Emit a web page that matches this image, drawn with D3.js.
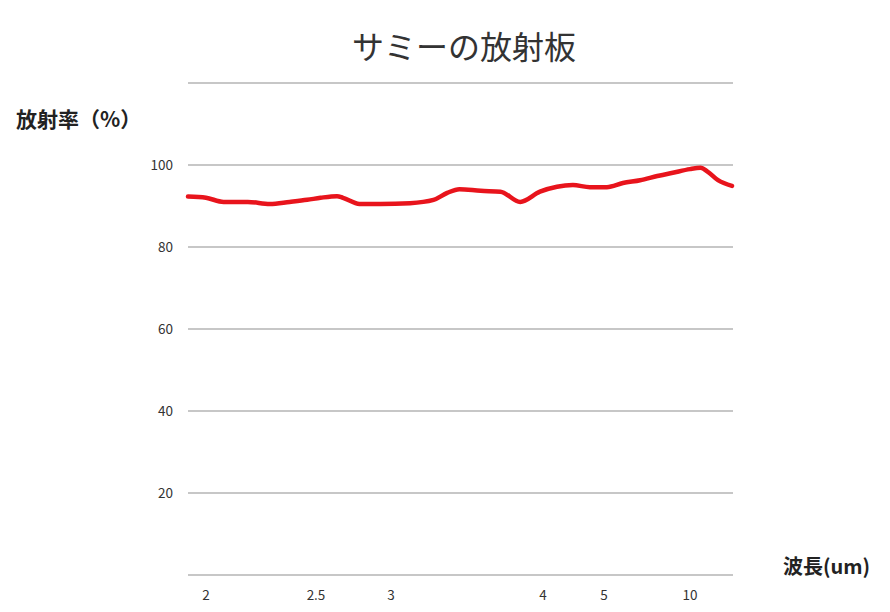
<!DOCTYPE html>
<html><head><meta charset="utf-8">
<script src="https://cdn.jsdelivr.net/npm/d3@7"></script>
<style>
body{margin:0;background:#fff;}
text{font-family:"Noto Sans CJK JP","Noto Sans",sans-serif;}
</style></head>
<body><svg id="c" width="890" height="612"></svg>
<script>
const title = "サミーの放射板";
const yLabel = "放射率（%）";
const xLabel = "波長(um)";
const xTicks = [2, 2.5, 3, 4, 5, 10];
const xTickLabels = ["2", "2.5", "3", "4", "5", "10"];
const yTicks = [20, 40, 60, 80, 100];
const yGrid = [0, 20, 40, 60, 80, 100, 120];
const wavelength = [1.92, 2.0, 2.08, 2.19, 2.29, 2.38, 2.46, 2.53, 2.64, 2.68, 2.79, 2.93, 3.125, 3.28, 3.37, 3.45, 3.59, 3.72, 3.85, 3.98, 4.23, 4.49, 4.77, 5.17, 6.1, 7.1, 8.1, 9.0, 10.0, 10.6, 11.0, 11.6, 12.4];
const emissivity = [92.3, 92.0, 91.0, 91.0, 90.5, 91.0, 91.5, 92.0, 92.4, 92.0, 90.5, 90.5, 90.7, 91.5, 93.2, 94.1, 93.7, 93.5, 91.0, 93.5, 94.7, 95.1, 94.6, 94.6, 95.6, 96.3, 97.3, 98.1, 99.0, 99.3, 98.4, 96.3, 94.9];

const svg = d3.select("#c");
// piecewise (non-uniform) wavelength axis
const x = d3.scaleLinear()
  .domain([1.92, 2, 2.5, 3, 4, 5, 10, 12.4])
  .range([188, 206, 316, 391, 543, 604, 690, 732]);
const y = d3.scaleLinear().domain([0, 120]).range([575, 83]);
const x0 = 188, x1 = 733;

svg.append("g").selectAll("line").data(yGrid).join("line")
  .attr("x1", x0).attr("x2", x1)
  .attr("y1", d => y(d)).attr("y2", d => y(d))
  .attr("stroke", "#b4b4b4").attr("stroke-width", 1.6);

svg.append("g").selectAll("text").data(yTicks).join("text")
  .attr("x", 173).attr("y", d => y(d) + 5)
  .attr("text-anchor", "end").attr("font-size", 13.5).attr("fill", "#333")
  .text(d => d);

svg.append("g").selectAll("text").data(xTicks).join("text")
  .attr("x", (d) => x(d)).attr("y", 600)
  .attr("text-anchor", "middle").attr("font-size", 13.5).attr("fill", "#333")
  .text((d, i) => xTickLabels[i]);

const pts = wavelength.map((w, i) => [w, emissivity[i]]);
svg.append("path").datum(pts)
  .attr("fill", "none").attr("stroke", "#e8141c").attr("stroke-width", 4.5)
  .attr("stroke-linejoin", "round").attr("stroke-linecap", "round")
  .attr("d", d3.line().x(d => x(d[0])).y(d => y(d[1])).curve(d3.curveMonotoneX));

svg.append("text").attr("x", 464).attr("y", 59).attr("text-anchor", "middle")
  .attr("font-size", 32).attr("fill", "#333").text(title);
svg.append("text").attr("x", 16).attr("y", 127)
  .attr("font-size", 21).attr("font-weight", "bold").attr("fill", "#222").text(yLabel);
svg.append("text").attr("x", 783).attr("y", 574)
  .attr("font-size", 20).attr("font-weight", "bold").attr("fill", "#222").text(xLabel);
</script></body></html>
